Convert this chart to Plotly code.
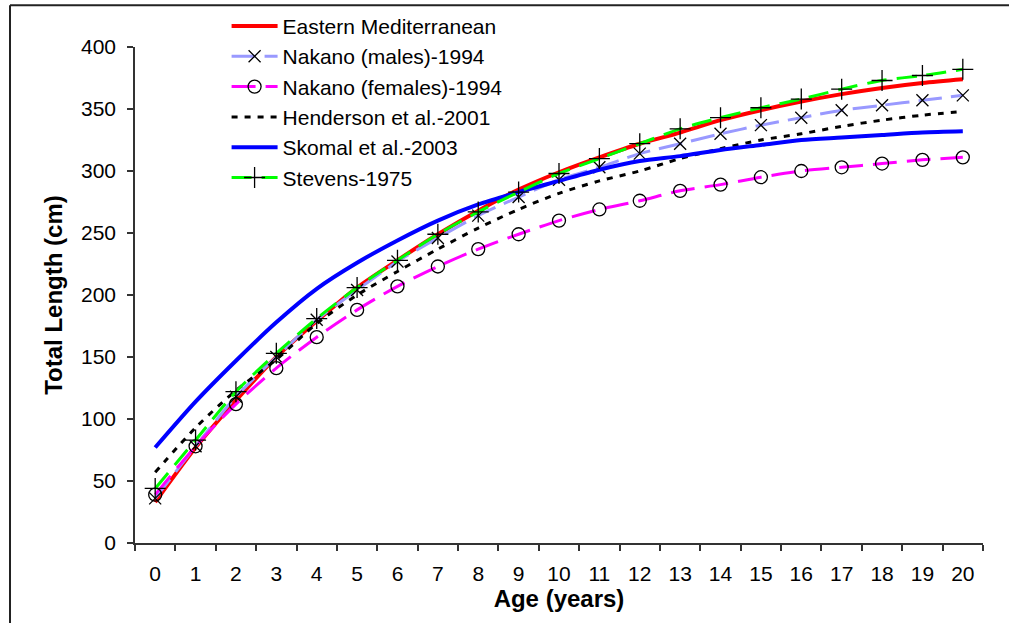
import plotly.graph_objects as go

ages = [str(a) for a in range(21)]

eastern_med = [33, 77, 115, 150, 179, 206, 228, 249, 268, 285, 299, 311, 322, 331, 341, 349, 356, 362, 367, 371, 374]
nakano_males = [36, 78, 118, 150, 180, 204, 227, 246, 264, 279, 293, 303, 314, 322, 330, 337, 343, 349, 353, 357, 361]
nakano_females = [39, 78, 112, 141, 166, 188, 207, 223, 237, 249, 260, 269, 276, 284, 289, 295, 300, 303, 306, 309, 311]
henderson = [57, 93, 123, 148, 177, 200, 219, 237, 254, 269, 282, 292, 300, 310, 318, 325, 330, 336, 341, 345, 348]
skomal = [77, 114, 147, 178, 205, 226, 244, 260, 273, 283, 292, 301, 308, 312, 317, 321, 325, 327, 329, 331, 332]
stevens = [44, 83, 122, 153, 181, 206, 228, 249, 267, 283, 298, 310, 322, 334, 343, 351, 358, 366, 373, 377, 382]

names = ["Eastern Mediterranean", "Nakano (males)-1994", "Nakano (females)-1994",
         "Henderson et al.-2001", "Skomal et al.-2003", "Stevens-1975"]

FONT = "Liberation Sans, Arial, sans-serif"
TICK_SIZE = 21
LEG_SIZE = 21
TITLE_SIZE = 24

fig = go.Figure()

def add(name, y, color, width, dash, symbol=None, msize=12):
    mode = "lines+markers" if symbol else "lines"
    kw = {}
    if symbol:
        kw["marker"] = dict(symbol=symbol, size=msize, color="black",
                            line=dict(color="black", width=1.3))
    fig.add_trace(go.Scatter(x=ages, y=y, name=name, mode=mode, legendgroup=name,
                             line=dict(color=color, width=width, dash=dash, shape="spline", smoothing=0.8),
                             **kw))

add(names[0], eastern_med, "#FF0000", 4, "solid")
add(names[1], nakano_males, "#9999FF", 3, "24px,9px", "x-thin-open", 12)
add(names[2], nakano_females, "#FF00FF", 3, "24px,10px", "circle-open", 13)
add(names[3], henderson, "#000000", 3, "6px,7px")
add(names[4], skomal, "#0000FF", 4, "solid")
add(names[5], stevens, "#00FF00", 3, "20px,10px", "cross-thin-open", 15)

fig.update_layout(
    width=1009, height=623,
    margin=dict(l=135, r=26, t=47, b=80, autoexpand=False),
    paper_bgcolor="white", plot_bgcolor="white",
    font=dict(family=FONT, size=TICK_SIZE, color="black"),
    showlegend=True,
    legend=dict(x=0.108, y=1.083, xanchor="left", yanchor="top",
                bgcolor="rgba(0,0,0,0)", borderwidth=0,
                font=dict(family=FONT, size=LEG_SIZE, color="black"),
                itemwidth=46, tracegroupgap=8, traceorder="normal"),
    xaxis=dict(type="category", range=[-0.5, 20.5], showgrid=False,
               showline=True, linecolor="#333", linewidth=1.5,
               ticks="outside", tickson="boundaries", ticklen=6, tickcolor="#333", tickwidth=1.5,
               ticklabelstandoff=11,
               tickfont=dict(family=FONT, size=TICK_SIZE, color="black"),
               title=dict(text="<b>Age (years)</b>", font=dict(family=FONT, size=TITLE_SIZE), standoff=6),
               zeroline=False, automargin=True),
    yaxis=dict(range=[0, 400], dtick=50, showgrid=False, zeroline=False,
               showline=True, linecolor="#333", linewidth=1.5,
               ticks="outside", ticklen=6, tickcolor="#333", tickwidth=1.5,
               ticklabelstandoff=7,
               tickfont=dict(family=FONT, size=TICK_SIZE, color="black"),
               title=dict(text="<b>Total Length (cm)</b>", font=dict(family=FONT, size=TITLE_SIZE), standoff=12),
               automargin=False),
    shapes=[
        dict(type="line", xref="paper", yref="paper", x0=-0.1474, x1=1.2, y0=1.084, y1=1.084,
             line=dict(color="#222", width=2)),
        dict(type="line", xref="paper", yref="paper", x0=-0.1474, x1=-0.1474, y0=1.084, y1=-0.3,
             line=dict(color="#222", width=2)),
    ],
)

fig.write_html("out.html", config={"displayModeBar": False},
               post_script=["document.body.style.margin='0';document.body.style.overflow='hidden';"])
